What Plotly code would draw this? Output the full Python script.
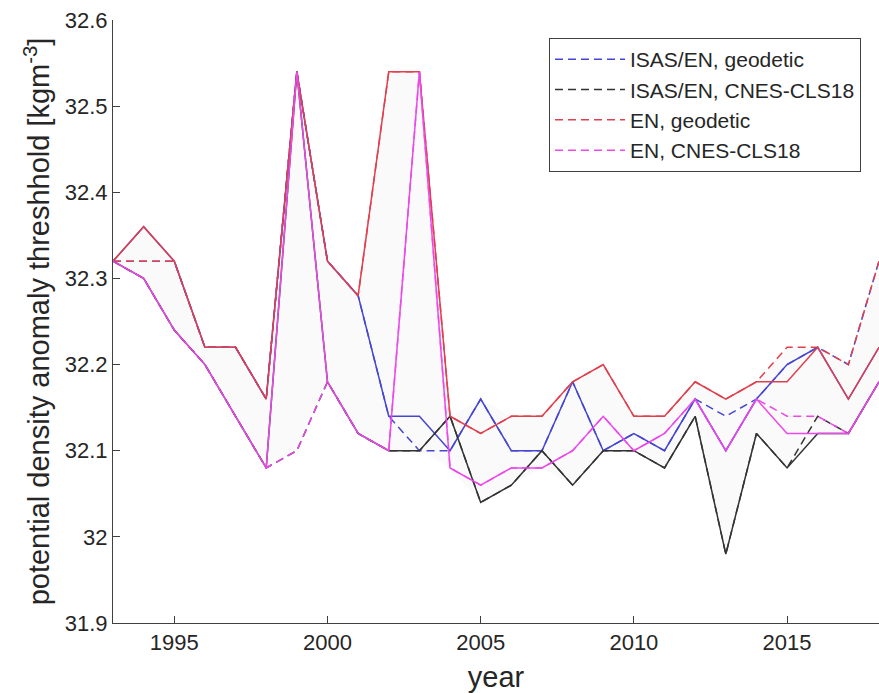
import numpy as np
import plotly.graph_objects as go

years = list(range(1993, 2019))

# ISAS/EN, geodetic
isas_geo_solid = [32.32, 32.36, 32.32, 32.22, 32.22, 32.16, 32.54, 32.32, 32.28, 32.14, 32.14, 32.10, 32.16,
                  32.10, 32.10, 32.18, 32.10, 32.12, 32.10, 32.16, 32.10, 32.16, 32.20, 32.22, 32.16, 32.22]
isas_geo_dash = [32.32, 32.32, 32.32, 32.22, 32.22, 32.16, 32.54, 32.32, 32.28, 32.14, 32.10, 32.10, 32.16,
                 32.10, 32.10, 32.18, 32.10, 32.12, 32.10, 32.16, 32.14, 32.16, 32.20, 32.22, 32.20, 32.32]
# ISAS/EN, CNES-CLS18
isas_cnes_solid = [32.32, 32.30, 32.24, 32.20, 32.14, 32.08, 32.54, 32.18, 32.12, 32.10, 32.10, 32.14, 32.04,
                   32.06, 32.10, 32.06, 32.10, 32.10, 32.08, 32.14, 31.98, 32.12, 32.08, 32.12, 32.12, 32.18]
isas_cnes_dash = [32.32, 32.30, 32.24, 32.20, 32.14, 32.08, 32.10, 32.18, 32.12, 32.10, 32.10, 32.14, 32.04,
                  32.06, 32.10, 32.06, 32.10, 32.10, 32.08, 32.14, 31.98, 32.12, 32.08, 32.14, 32.12, 32.18]
# EN, geodetic
en_geo_solid = [32.32, 32.36, 32.32, 32.22, 32.22, 32.16, 32.54, 32.32, 32.28, 32.54, 32.54, 32.14, 32.12,
                32.14, 32.14, 32.18, 32.20, 32.14, 32.14, 32.18, 32.16, 32.18, 32.18, 32.22, 32.16, 32.22]
en_geo_dash = [32.32, 32.32, 32.32, 32.22, 32.22, 32.16, 32.54, 32.32, 32.28, 32.54, 32.54, 32.14, 32.12,
               32.14, 32.14, 32.18, 32.20, 32.14, 32.14, 32.18, 32.16, 32.18, 32.22, 32.22, 32.20, 32.32]
# EN, CNES-CLS18
en_cnes_solid = [32.32, 32.30, 32.24, 32.20, 32.14, 32.08, 32.54, 32.18, 32.12, 32.10, 32.54, 32.08, 32.06,
                 32.08, 32.08, 32.10, 32.14, 32.10, 32.12, 32.16, 32.10, 32.16, 32.12, 32.12, 32.12, 32.18]
en_cnes_dash = [32.32, 32.30, 32.24, 32.20, 32.14, 32.08, 32.10, 32.18, 32.12, 32.10, 32.54, 32.08, 32.06,
                32.08, 32.08, 32.10, 32.14, 32.10, 32.12, 32.16, 32.10, 32.16, 32.14, 32.14, 32.12, 32.18]

names = ["ISAS/EN, geodetic", "ISAS/EN, CNES-CLS18", "EN, geodetic", "EN, CNES-CLS18"]
colors = ["#4646d2", "#333333", "#e0404e", "#ec48ec"]
solids = [isas_geo_solid, isas_cnes_solid, en_geo_solid, en_cnes_solid]
dashes = [isas_geo_dash, isas_cnes_dash, en_geo_dash, en_cnes_dash]

yticks = [31.9, 32.0, 32.1, 32.2, 32.3, 32.4, 32.5, 32.6]
ytick_text = ["31.9", "32", "32.1", "32.2", "32.3", "32.4", "32.5", "32.6"]
xticks = [1995, 2000, 2005, 2010, 2015]

allv = np.array(solids + dashes)
upper = allv.max(axis=0)
lower = allv.min(axis=0)

fig = go.Figure()
fig.add_trace(go.Scatter(x=years, y=list(lower), mode="lines", line=dict(width=0),
                         showlegend=False, hoverinfo="skip"))
fig.add_trace(go.Scatter(x=years, y=list(upper), mode="lines", line=dict(width=0),
                         fill="tonexty", fillcolor="rgba(0,0,0,0.02)",
                         showlegend=False, hoverinfo="skip"))

for n, c, d in zip(names, colors, dashes):
    fig.add_trace(go.Scatter(x=years, y=d, mode="lines", name=n,
                             line=dict(color=c, width=1.5, dash="8px,5px")))
for n, c, s in zip(names, colors, solids):
    fig.add_trace(go.Scatter(x=years, y=s, mode="lines", name=n, showlegend=False,
                             line=dict(color=c, width=1.5)))

axis_col = "#404040"
font_fam = "Liberation Sans, Arial, sans-serif"
fig.update_layout(
    width=879, height=693,
    margin=dict(l=113, r=0, t=20, b=70),
    paper_bgcolor="white", plot_bgcolor="white",
    font=dict(family=font_fam, size=24, color="#262626"),
    showlegend=True,
    legend=dict(x=0.9765, y=0.970, xanchor="right", yanchor="top",
                traceorder="normal",
                bgcolor="white", bordercolor=axis_col, borderwidth=1,
                font=dict(size=21, color="#262626"), tracegroupgap=0,
                itemwidth=70),
    xaxis=dict(range=[1993, 2018], tickvals=xticks, showgrid=False, zeroline=False,
               showline=True, linecolor=axis_col, linewidth=1,
               ticks="inside", ticklen=7, tickcolor=axis_col,
               title=dict(text="year", standoff=12),
               tickfont=dict(size=22)),
    yaxis=dict(range=[31.9, 32.6], tickvals=yticks, ticktext=ytick_text,
               showgrid=False, zeroline=False,
               showline=True, linecolor=axis_col, linewidth=1,
               ticks="inside", ticklen=7, tickcolor=axis_col,
               title=dict(text="potential density anomaly threshhold [kgm<sup>-3</sup>]", standoff=6),
               tickfont=dict(size=22)),
)

fig.write_html("out.html")
